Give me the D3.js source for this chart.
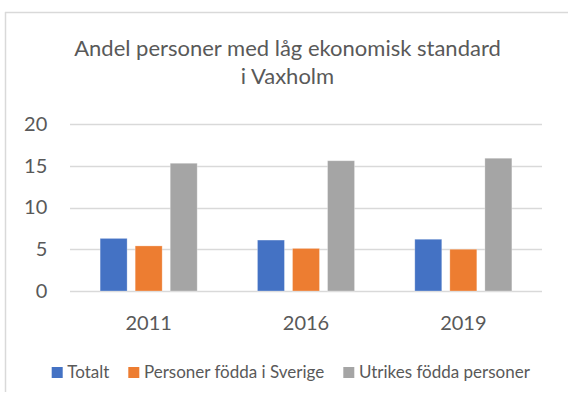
<!DOCTYPE html>
<html><head><meta charset="utf-8">
<script src="https://cdn.jsdelivr.net/npm/d3@7"></script>
<style>body{margin:0;background:#fff}svg{display:block}text{font-family:Lato,"Open Sans",sans-serif;fill:#595959}</style>
</head><body><svg id="c" width="568" height="401"></svg>
<script>
const categories = ["2011", "2016", "2019"];
const seriesNames = ["Totalt", "Personer födda i Sverige", "Utrikes födda personer"];
const totalt = [6.3, 6.1, 6.2];
const foddaSverige = [5.4, 5.1, 5.0];
const utrikesFodda = [15.3, 15.6, 15.9];
const yTicks = [0, 5, 10, 15, 20];
const colors = ["#4472c4", "#ed7d31", "#a5a5a5"];
const titleLines = ["Andel personer med låg ekonomisk standard", "i Vaxholm"];

const seriesValues = [totalt, foddaSverige, utrikesFodda];
const svg = d3.select("#c");
const plotLeft = 70, plotRight = 542, plotTop = 124, plotBottom = 291;
const font = "Lato, 'Open Sans', sans-serif";

// border
svg.append("line").attr("x1",5.5).attr("x2",5.5).attr("y1",12).attr("y2",392).attr("stroke","#d9d9d9").attr("stroke-width",1.5);
svg.append("line").attr("x1",5).attr("x2",568).attr("y1",12.5).attr("y2",12.5).attr("stroke","#d9d9d9").attr("stroke-width",1.5);

// title
svg.append("text").attr("text-anchor","middle").style("font-size","22px")
  .selectAll("tspan").data(titleLines).join("tspan").attr("x",287.5).attr("y",(d,i)=>56+i*27.5).text(d=>d);

const y = d3.scaleLinear().domain([0,20]).range([plotBottom, plotTop]);
const x0 = d3.scaleBand().domain(categories).range([plotLeft,plotRight]).paddingInner(0.383).paddingOuter(0.1915);
const x1 = d3.scaleBand().domain(seriesNames).range([0,x0.bandwidth()]).paddingInner(0.23);

// gridlines
svg.append("g").selectAll("line").data(yTicks).join("line")
  .attr("x1",plotLeft).attr("x2",plotRight).attr("y1",d=>Math.round(y(d))+0.5).attr("y2",d=>Math.round(y(d))+0.5)
  .attr("stroke","#d9d9d9").attr("stroke-width",1.3);

// y axis labels
const yAxis = svg.append("g").attr("transform",`translate(${plotLeft},0)`)
  .call(d3.axisLeft(y).tickValues(yTicks).tickSize(0).tickPadding(22.7));
yAxis.select(".domain").remove();
yAxis.selectAll("text").style("font-size","20px").style("font-family",font).attr("fill","#595959");

// bars
const groups = svg.append("g").selectAll("g").data(categories).join("g")
  .attr("transform",d=>`translate(${x0(d)},0)`);
groups.selectAll("rect").data((c,ci)=>seriesNames.map((s,si)=>({s,si,v:seriesValues[si][ci]}))).join("rect")
  .attr("x",d=>x1(d.s)).attr("width",x1.bandwidth())
  .attr("y",d=>y(d.v)).attr("height",d=>y(0)-y(d.v))
  .attr("fill",d=>colors[d.si]).attr("stroke","#ffffff").attr("stroke-opacity",0.35).attr("stroke-width",0.8);

// x axis labels
const xAxis = svg.append("g").attr("transform",`translate(0,${plotBottom})`)
  .call(d3.axisBottom(x0).tickSize(0));
xAxis.select(".domain").remove();
xAxis.selectAll("text").attr("y",39).attr("dy",0).style("font-size","20px").style("font-family",font).attr("fill","#595959");

// legend
const legendX = [51.7, 128.3, 343.3];
const lg = svg.append("g").selectAll("g").data(seriesNames).join("g")
  .attr("transform",(d,i)=>`translate(${legendX[i]},367)`);
lg.append("rect").attr("width",11).attr("height",11).attr("fill",(d,i)=>colors[i]);
lg.append("text").attr("x",15.6).attr("y",11.3).style("font-size","17px").text(d=>d);
</script></body></html>
